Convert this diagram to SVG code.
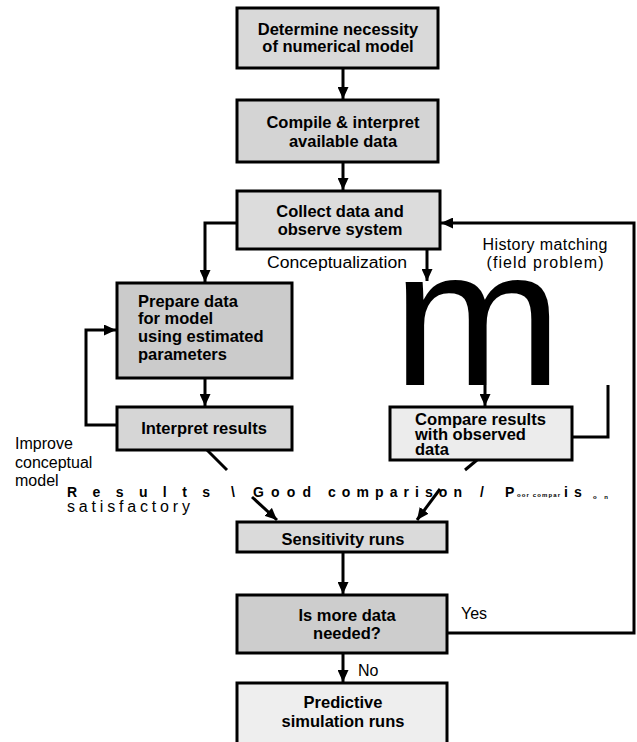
<svg xmlns="http://www.w3.org/2000/svg" width="637" height="742" viewBox="0 0 637 742">
<defs>
<marker id="ah" markerUnits="userSpaceOnUse" markerWidth="12" markerHeight="11" refX="12" refY="5.5" orient="auto">
<path d="M0,0 L12,5.5 L0,11 z" fill="#000"/>
</marker>
</defs>
<style>
.box{stroke:#000;stroke-width:3}
.bt{font-family:"Liberation Sans",Arial,sans-serif;font-weight:bold;font-size:16.5px;fill:#000}
.lbl{font-family:"Liberation Sans",Arial,sans-serif;font-size:16px;fill:#000}
.row{font-family:"Liberation Sans",Arial,sans-serif;font-weight:bold;font-size:14px;fill:#000}
.tiny{font-size:6px}
.c{fill:none;stroke:#000;stroke-width:3}
</style>
<rect width="637" height="742" fill="#fff"/>

<g id="connectors">
<line class="c" x1="343" y1="68" x2="343" y2="99" marker-end="url(#ah)"/>
<line class="c" x1="343" y1="162" x2="343" y2="190" marker-end="url(#ah)"/>
<path class="c" d="M237,223 H205 V282" marker-end="url(#ah)"/>
<line class="c" x1="427" y1="249" x2="427" y2="281" marker-end="url(#ah)"/>
<path class="c" d="M447,633 H634 V223 H441" marker-end="url(#ah)"/>
<line class="c" x1="205" y1="378" x2="205" y2="406" marker-end="url(#ah)"/>
<path class="c" d="M117,425 H86 V330 H116" marker-end="url(#ah)"/>
<line class="c" x1="485" y1="385" x2="485" y2="406" marker-end="url(#ah)"/>
<path class="c" d="M572,437 H608 V385"/>
<line class="c" x1="207" y1="450" x2="227" y2="470"/>
<line class="c" x1="252" y1="497" x2="277" y2="520" marker-end="url(#ah)"/>
<line class="c" x1="477" y1="460" x2="465" y2="470"/>
<line class="c" x1="440" y1="489" x2="417" y2="520" marker-end="url(#ah)"/>
<line class="c" x1="343" y1="552" x2="343" y2="594" marker-end="url(#ah)"/>
<line class="c" x1="343" y1="653" x2="343" y2="682" marker-end="url(#ah)"/>
</g>

<g id="n1">
<rect class="box" x="237" y="8" width="201" height="60" fill="#d9d9d9"/>
<text class="bt" x="338" y="35" text-anchor="middle">Determine necessity</text>
<text class="bt" x="338" y="52" text-anchor="middle">of numerical model</text>
</g>

<g id="n2">
<rect class="box" x="237" y="100" width="201" height="62" fill="#d4d4d4"/>
<text class="bt" x="343" y="128" text-anchor="middle">Compile &amp; interpret</text>
<text class="bt" x="343" y="147" text-anchor="middle">available data</text>
</g>

<g id="n3">
<rect class="box" x="237" y="191" width="203" height="58" fill="#dcdcdc"/>
<text class="bt" x="340" y="217" text-anchor="middle">Collect data and</text>
<text class="bt" x="340" y="235" text-anchor="middle">observe system</text>
</g>

<g id="labels-top">
<text class="lbl" x="337" y="268" text-anchor="middle" textLength="140" lengthAdjust="spacingAndGlyphs">Conceptualization</text>
<text class="lbl" x="545" y="250" text-anchor="middle" textLength="125" lengthAdjust="spacing">History matching</text>
<text class="lbl" x="545" y="268" text-anchor="middle" textLength="117" lengthAdjust="spacing">(field problem)</text>
</g>

<g id="n4">
<rect class="box" x="117" y="283" width="175" height="95" fill="#cbcbcb"/>
<text class="bt" x="138" y="307">Prepare data</text>
<text class="bt" x="138" y="324">for model</text>
<text class="bt" x="138" y="342">using estimated</text>
<text class="bt" x="138" y="360">parameters</text>
</g>

<g id="m-glyph">
<text transform="translate(392,385) scale(1.05,1)" x="0" y="0" font-family="'Liberation Sans',Arial,sans-serif" font-size="195" fill="#000">m</text>
</g>

<g id="n5">
<rect class="box" x="117" y="407" width="175" height="43" fill="#d6d6d6"/>
<text class="bt" x="204" y="434" text-anchor="middle">Interpret results</text>
</g>

<g id="n6">
<rect class="box" x="390" y="407" width="182" height="53" fill="#ececec"/>
<text class="bt" x="415" y="425" font-size="15.5" textLength="131" lengthAdjust="spacingAndGlyphs">Compare results</text>
<text class="bt" x="415" y="440" font-size="15.5">with observed</text>
<text class="bt" x="415" y="455" font-size="15.5">data</text>
</g>

<g id="labels-left">
<text class="lbl" x="15" y="449" font-size="17">Improve</text>
<text class="lbl" x="15" y="468" font-size="17">conceptual</text>
<text class="lbl" x="15" y="486" font-size="17">model</text>
</g>

<g id="labels-row">
<text class="row" x="67" y="497" textLength="143" lengthAdjust="spacing">Results</text>
<text class="row" x="231" y="497">\</text>
<text class="row" x="253" y="497" textLength="58" lengthAdjust="spacing">Good</text>
<text class="row" x="328" y="497" textLength="134" lengthAdjust="spacing">comparison</text>
<text class="row" x="480" y="497">/</text>
<text class="row" x="505" y="497">P</text>
<text class="row tiny" x="517" y="497" textLength="43" lengthAdjust="spacing">oor compar</text>
<text class="row" x="564" y="497">i</text>
<text class="row" x="574" y="497">s</text>
<text class="row tiny" x="593" y="499" textLength="15" lengthAdjust="spacing">o n</text>
<text class="lbl" x="67" y="512" textLength="123" lengthAdjust="spacing">satisfactory</text>
</g>

<g id="n7">
<rect class="box" x="237" y="522" width="210" height="30" fill="#dadada"/>
<text class="bt" x="343" y="545" text-anchor="middle">Sensitivity runs</text>
</g>

<g id="n8">
<rect class="box" x="237" y="595" width="210" height="58" fill="#cdcdcd"/>
<text class="bt" x="347" y="621" text-anchor="middle">Is more data</text>
<text class="bt" x="347" y="639" text-anchor="middle">needed?</text>
</g>

<g id="labels-yesno">
<text class="lbl" x="461" y="619">Yes</text>
<text class="lbl" x="358" y="676">No</text>
</g>

<g id="n9">
<rect class="box" x="237" y="683" width="210" height="70" fill="#eeeeee"/>
<text class="bt" x="343" y="708" text-anchor="middle">Predictive</text>
<text class="bt" x="343" y="727" text-anchor="middle">simulation runs</text>
</g>
</svg>
